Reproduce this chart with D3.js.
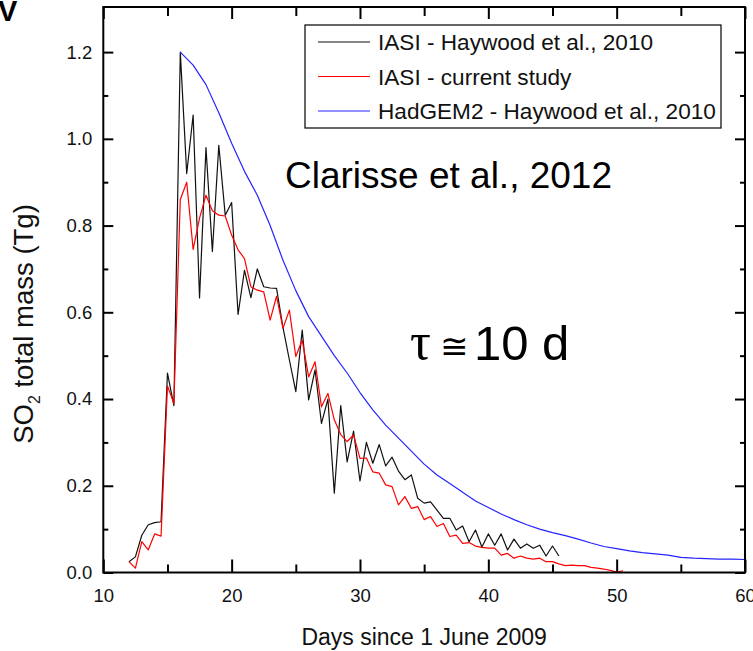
<!DOCTYPE html>
<html>
<head>
<meta charset="utf-8">
<script src="https://cdn.jsdelivr.net/npm/d3@7"></script>
<style>
  body { margin: 0; background: #fff; }
  text { font-family: 'Liberation Sans', Arial, sans-serif; }
</style>
</head>
<body>
<div id="chart"></div>
<script>
// IASI - Haywood et al., 2010  [day, Tg]
const IASI_HAYWOOD = [
  [12.0,0.025],[12.5,0.036],[13.0,0.086],[13.5,0.11],[14.0,0.115],[14.5,0.117],
  [15.0,0.46],[15.5,0.385],[16.0,1.20],[16.5,0.92],[17.0,1.055],[17.5,0.633],
  [18.0,0.98],[18.5,0.74],[19.0,0.985],[19.5,0.824],[20.0,0.853],[20.5,0.595],
  [21.0,0.697],[21.5,0.634],[22.0,0.70],[22.5,0.659],[23.0,0.656],[23.5,0.655],
  [24.0,0.565],[24.5,0.49],[25.0,0.417],[25.5,0.559],[26.0,0.398],[26.5,0.467],
  [27.0,0.344],[27.5,0.40],[28.0,0.183],[28.5,0.385],[29.0,0.255],[29.5,0.326],
  [30.0,0.211],[30.5,0.30],[31.0,0.252],[31.5,0.295],[32.0,0.246],[32.5,0.266],
  [33.0,0.234],[33.5,0.214],[34.0,0.225],[34.5,0.171],[35.0,0.16],[35.5,0.163],
  [36.0,0.144],[36.5,0.125],[37.0,0.125],[37.5,0.098],[38.0,0.107],[38.5,0.071],
  [39.0,0.098],[39.5,0.059],[40.0,0.089],[40.5,0.063],[41.0,0.089],[41.5,0.052],
  [42.0,0.077],[42.5,0.056],[43.0,0.066],[43.5,0.056],[44.0,0.063],[44.5,0.038],
  [45.0,0.061],[45.5,0.038]
]

// IASI - current study
const IASI_CURRENT = [
  [12.0,0.025],[12.5,0.01],[13.0,0.071],[13.5,0.052],[14.0,0.089],[14.5,0.084],
  [15.0,0.43],[15.5,0.39],[16.0,0.86],[16.5,0.90],[17.0,0.745],[17.5,0.817],
  [18.0,0.87],[18.5,0.834],[19.0,0.824],[19.5,0.822],[20.0,0.778],[20.5,0.744],
  [21.0,0.724],[21.5,0.659],[22.0,0.651],[22.5,0.647],[23.0,0.582],[23.5,0.637],
  [24.0,0.563],[24.5,0.605],[25.0,0.498],[25.5,0.536],[26.0,0.451],[26.5,0.486],
  [27.0,0.382],[27.5,0.413],[28.0,0.352],[28.5,0.318],[29.0,0.302],[29.5,0.317],
  [30.0,0.263],[30.5,0.264],[31.0,0.232],[31.5,0.229],[32.0,0.202],[32.5,0.198],
  [33.0,0.156],[33.5,0.175],[34.0,0.148],[34.5,0.152],[35.0,0.122],[35.5,0.129],
  [36.0,0.106],[36.5,0.113],[37.0,0.083],[37.5,0.086],[38.0,0.067],[38.5,0.069],
  [39.0,0.061],[39.5,0.058],[40.0,0.056],[40.5,0.056],[41.0,0.040],[41.5,0.044],
  [42.0,0.033],[42.5,0.038],[43.0,0.033],[43.5,0.031],[44.0,0.033],[44.5,0.025],
  [45.0,0.025],[45.5,0.020],[46.0,0.016],[46.5,0.017],[47.0,0.016],[47.5,0.016],
  [48.0,0.012],[48.5,0.010],[49.0,0.008],[49.5,0.005],[50.0,0.001],[50.5,0.004]
]

// HadGEM2 - Haywood et al., 2010
const HADGEM2 = [
  [16,1.20],[17,1.17],[18,1.125],[19,1.06],[20,0.99],[21,0.925],[22,0.87],
  [23,0.80],[24,0.72],[25,0.65],[26,0.59],[27,0.545],[28,0.50],[29,0.46],
  [30,0.415],[31,0.375],[32,0.34],[33,0.31],[34,0.28],[35,0.25],[36,0.225],
  [37,0.205],[38,0.185],[39,0.165],[40,0.15],[41,0.135],[42,0.122],[43,0.11],
  [44,0.10],[45,0.092],[46,0.085],[47,0.077],[48,0.068],[49,0.06],[50,0.055],
  [51,0.05],[52,0.046],[53,0.043],[54,0.04],[55,0.035],[56,0.033],[57,0.032],
  [58,0.031],[59,0.031],[60,0.030]
]

const X_MAJOR = [10, 20, 30, 40, 50, 60]
const X_MINOR = [15, 25, 35, 45, 55]
const Y_MAJOR = [0, 0.2, 0.4, 0.6, 0.8, 1.0, 1.2]
const Y_MINOR = [0.1, 0.3, 0.5, 0.7, 0.9, 1.1]

const SERIES = [
  { name: 'IASI - Haywood et al., 2010', data: IASI_HAYWOOD, color: '#111' },
  { name: 'IASI - current study', data: IASI_CURRENT, color: '#ff0000' },
  { name: 'HadGEM2 - Haywood et al., 2010', data: HADGEM2, color: '#2424ff' }
]

// Chart dimensions
const WIDTH = 753
const HEIGHT = 651
const LEFT = 103.3, RIGHT = 745, TOP = 7, BOTTOM = 572.5

var svg = d3.select('#chart').append('svg')
    .attr('width', WIDTH)
    .attr('height', HEIGHT)

var x = d3.scaleLinear().domain([10, 60]).range([LEFT, RIGHT])
var y = d3.scaleLinear().domain([0, 1.304]).range([BOTTOM, TOP])

// series lines
var line = d3.line().x(d => x(d[0])).y(d => y(d[1]))
svg.append('g').selectAll('path').data(SERIES).enter().append('path')
    .attr('d', d => line(d.data))
    .attr('fill', 'none')
    .attr('stroke', d => d.color)
    .attr('stroke-width', 1.2)
    .attr('stroke-linejoin', 'round')

// ticks, all pointing inwards
function ticks(axis, vals, size, labels) {
    return axis.tickValues(vals).tickSizeInner(-size).tickSizeOuter(0)
        .tickFormat(labels ? d3.format('.1f') : '')
}
var gb = svg.append('g').attr('transform', `translate(0,${BOTTOM})`)
gb.call(ticks(d3.axisBottom(x), X_MAJOR, 13, false).tickFormat(d3.format('d')).tickPadding(16))
gb.append('g').call(ticks(d3.axisBottom(x), X_MINOR, 8, false))
svg.append('g').attr('transform', `translate(0,${TOP})`).call(ticks(d3.axisTop(x), X_MAJOR, 12, false))
svg.append('g').attr('transform', `translate(0,${TOP})`).call(ticks(d3.axisTop(x), X_MINOR, 9, false))

var gl = svg.append('g').attr('transform', `translate(${LEFT},0)`)
gl.call(ticks(d3.axisLeft(y), Y_MAJOR, 10, true).tickPadding(11))
gl.append('g').call(ticks(d3.axisLeft(y), Y_MINOR, 5, false))
svg.append('g').attr('transform', `translate(${RIGHT},0)`).call(ticks(d3.axisRight(y), Y_MAJOR, 10, false))
svg.append('g').attr('transform', `translate(${RIGHT},0)`).call(ticks(d3.axisRight(y), Y_MINOR, 5, false))

svg.selectAll('.domain').remove()
svg.selectAll('.tick line').attr('stroke', '#000').attr('stroke-width', 2)
svg.selectAll('.tick text')
    .style('font-family', "'Liberation Sans', Arial, sans-serif")
    .style('font-size', '18.5px')
    .attr('fill', '#111')

// frame
svg.append('rect')
    .attr('x', LEFT).attr('y', TOP)
    .attr('width', RIGHT - LEFT).attr('height', BOTTOM - TOP)
    .attr('fill', 'none').attr('stroke', '#000').attr('stroke-width', 2)

// axis titles
svg.append('text')
    .attr('x', (LEFT + RIGHT) / 2).attr('y', 645)
    .attr('text-anchor', 'middle')
    .style('font-size', '23px').attr('fill', '#111')
    .text('Days since 1 June 2009')

var yl = svg.append('text')
    .attr('transform', 'translate(33,324) rotate(-90)')
    .attr('text-anchor', 'middle')
    .style('font-size', '27.5px').attr('fill', '#111')
yl.append('tspan').text('SO')
yl.append('tspan').attr('dy', 7).style('font-size', '16px').text('2')
yl.append('tspan').attr('dy', -7).text(' total mass (Tg)')

// legend
var legend = svg.append('g')
legend.append('rect')
    .attr('x', 305).attr('y', 25).attr('width', 416).attr('height', 103)
    .attr('fill', '#fff').attr('stroke', '#000').attr('stroke-width', 1.2)
var items = legend.selectAll('.item').data(SERIES).enter().append('g')
    .attr('transform', (d, i) => `translate(0,${42 + i * 34.5})`)
items.append('line')
    .attr('x1', 318).attr('x2', 370)
    .attr('stroke', d => d.color).attr('stroke-width', 1.2)
items.append('text')
    .attr('x', 378).attr('y', 8)
    .style('font-size', '22.6px').attr('fill', '#111')
    .text(d => d.name)

// annotations
svg.append('text')
    .attr('x', 285).attr('y', 188)
    .style('font-size', '37px').attr('fill', '#000')
    .text('Clarisse et al., 2012')

svg.append('text')
    .attr('x', 410).attr('y', 359)
    .style('font-family', "'Liberation Serif', 'DejaVu Serif', serif")
    .style('font-size', '52px').attr('fill', '#000')
    .text('τ')
svg.append('text')
    .attr('x', 440).attr('y', 358)
    .style('font-family', "'DejaVu Sans', sans-serif")
    .style('font-size', '34px').attr('fill', '#000')
    .text('≅')
svg.append('text')
    .attr('x', 474).attr('y', 360)
    .style('font-size', '49px').attr('fill', '#000')
    .text('10 d')

// panel letter, cut by the top edge
svg.append('text')
    .attr('x', -2).attr('y', 21)
    .style('font-size', '29px').style('font-weight', 'bold').attr('fill', '#000')
    .text('V')
</script>
</body>
</html>
